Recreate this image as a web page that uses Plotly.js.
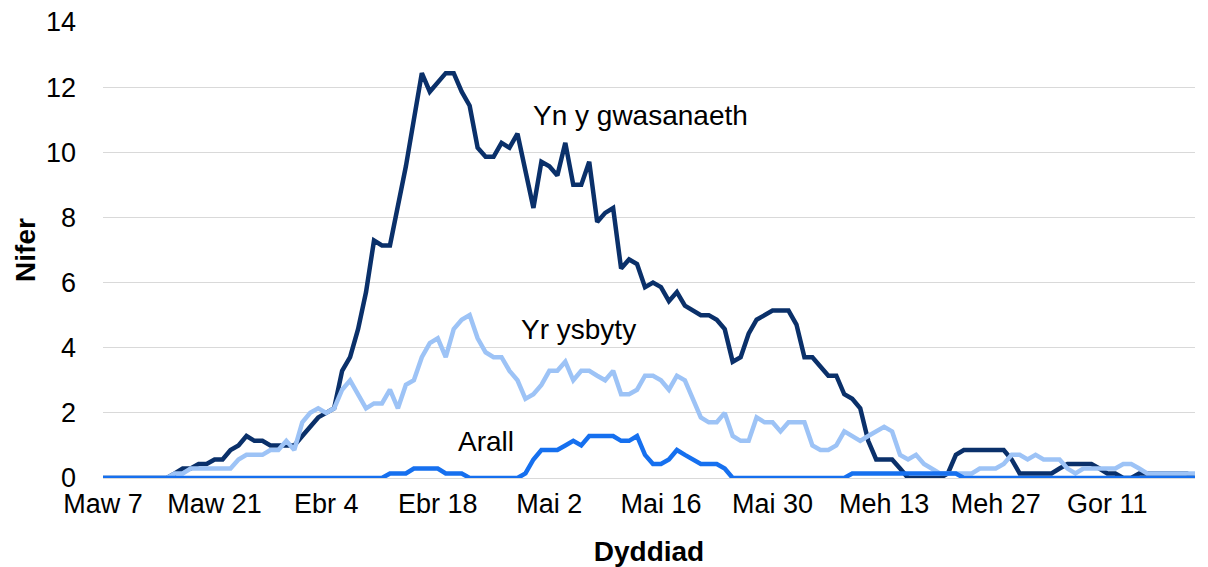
<!DOCTYPE html>
<html>
<head>
<meta charset="utf-8">
<script src="https://cdn.plot.ly/plotly-3.0.1.min.js"></script>
<style>
  html, body { margin: 0; padding: 0; background: #ffffff; }
  #chart { width: 1208px; height: 567px; }
</style>
</head>
<body>
<div id="chart"></div>
<script>
// First day of the series and day count (one point per day)
const startDate = '2020-03-07';

const tickDates = ['2020-03-07','2020-03-21','2020-04-04','2020-04-18','2020-05-02',
                   '2020-05-16','2020-05-30','2020-06-13','2020-06-27','2020-07-11'];
const tickLabels = ['Maw 7','Maw 21','Ebr 4','Ebr 18','Mai 2','Mai 16','Mai 30','Meh 13','Meh 27','Gor 11'];

const seriesNames = ['Yn y gwasanaeth', 'Yr ysbyty', 'Arall'];

const ynYGwasanaeth = [
  0,0,0,0,0,0,0,0,0,0.14,
  0.29,0.29,0.43,0.43,0.57,0.57,0.86,1.0,1.29,1.14,
  1.14,1.0,1.0,1.0,1.0,1.29,1.57,1.86,2.0,2.14,
  3.29,3.71,4.57,5.71,7.29,7.14,7.14,8.29,9.57,11.0,
  12.43,11.86,12.14,12.43,12.43,11.86,11.43,10.14,9.86,9.86,
  10.29,10.14,10.57,9.43,8.29,9.71,9.57,9.29,10.29,9.0,
  9.0,9.71,7.86,8.14,8.29,6.43,6.71,6.57,5.86,6.0,
  5.86,5.43,5.71,5.29,5.14,5.0,5.0,4.86,4.57,3.57,
  3.71,4.43,4.86,5.0,5.14,5.14,5.14,4.71,3.71,3.71,
  3.43,3.14,3.14,2.57,2.43,2.14,1.14,0.57,0.57,0.57,
  0.29,0,0,0,0,0,0.14,0.71,0.86,0.86,
  0.86,0.86,0.86,0.86,0.57,0.14,0.14,0.14,0.14,0.14,
  0.29,0.43,0.43,0.43,0.43,0.29,0.14,0.14,0,0,
  0.14,0.14,0.14,0.14,0.14,0.14,0.14,0
];

const yrYsbyty = [
  0,0,0,0,0,0,0,0,0,0.14,
  0.14,0.29,0.29,0.29,0.29,0.29,0.29,0.57,0.71,0.71,
  0.71,0.86,0.86,1.14,0.86,1.71,2.0,2.14,2.0,2.14,
  2.71,3.0,2.57,2.14,2.29,2.29,2.71,2.14,2.86,3.0,
  3.71,4.14,4.29,3.71,4.57,4.86,5.0,4.29,3.86,3.71,
  3.71,3.29,3.0,2.43,2.57,2.86,3.29,3.29,3.57,3.0,
  3.29,3.29,3.14,3.0,3.29,2.57,2.57,2.71,3.14,3.14,
  3.0,2.71,3.14,3.0,2.43,1.86,1.71,1.71,2.0,1.29,
  1.14,1.14,1.86,1.71,1.71,1.43,1.71,1.71,1.71,1.0,
  0.86,0.86,1.0,1.43,1.29,1.14,1.29,1.43,1.57,1.43,
  0.71,0.57,0.71,0.43,0.29,0.14,0.14,0.14,0.14,0.14,
  0.29,0.29,0.29,0.43,0.71,0.71,0.57,0.71,0.57,0.57,
  0.57,0.29,0.14,0.29,0.29,0.29,0.29,0.29,0.43,0.43,
  0.29,0.14,0.14,0.14,0.14,0.14,0.14,0.14
];

const arall = [
  0,0,0,0,0,0,0,0,0,0,
  0,0,0,0,0,0,0,0,0,0,
  0,0,0,0,0,0,0,0,0,0,
  0,0,0,0,0,0,0.14,0.14,0.14,0.29,
  0.29,0.29,0.29,0.14,0.14,0.14,0,0,0,0,
  0,0,0,0.14,0.57,0.86,0.86,0.86,1.0,1.14,
  1.0,1.29,1.29,1.29,1.29,1.14,1.14,1.29,0.71,0.43,
  0.43,0.57,0.86,0.71,0.57,0.43,0.43,0.43,0.29,0,
  0,0,0,0,0,0,0,0,0,0,
  0,0,0,0,0.14,0.14,0.14,0.14,0.14,0.14,
  0.14,0.14,0.14,0.14,0.14,0.14,0.14,0.14,0,0,
  0,0,0,0,0,0,0,0,0,0,
  0,0,0,0,0,0,0,0,0,0,
  0,0,0,0,0,0,0,0
];

const colors = ['#0a306a', '#9dc3f6', '#1670ef'];

// consecutive daily dates for the x axis
function buildDates(start, n) {
  const out = [];
  const d0 = new Date(start + 'T00:00:00Z');
  for (let i = 0; i < n; i++) {
    const d = new Date(d0.getTime() + i * 86400000);
    out.push(d.toISOString().slice(0, 10));
  }
  return out;
}
const dates = buildDates(startDate, ynYGwasanaeth.length);

const FONT = 'Liberation Sans, Arial, Helvetica, sans-serif';
const allSeries = [ynYGwasanaeth, yrYsbyty, arall];

const traces = allSeries.map((vals, i) => ({
  type: 'scatter',
  mode: 'lines',
  name: seriesNames[i],
  x: dates,
  y: vals,
  line: { color: colors[i], width: 4.5, shape: 'linear' },
  hoverinfo: 'x+y+name'
}));

const layout = {
  width: 1208,
  height: 567,
  margin: { l: 103, r: 13, t: 22, b: 89 },
  paper_bgcolor: '#ffffff',
  plot_bgcolor: '#ffffff',
  showlegend: false,
  font: { family: FONT, color: '#000000', size: 27 },
  xaxis: {
    type: 'date',
    range: [dates[0], dates[dates.length - 1]],
    tickvals: tickDates,
    ticktext: tickLabels,
    tickfont: { family: FONT, size: 27, color: '#000000' },
    showgrid: false,
    zeroline: false,
    showline: true,
    linecolor: '#d9d9d9',
    linewidth: 1,
    ticks: '',
    ticklabelstandoff: 2,
    title: { text: 'Dyddiad', font: { family: FONT, size: 28, color: '#000000', weight: 'bold' }, standoff: 22 },
    automargin: false,
    fixedrange: true
  },
  yaxis: {
    range: [0, 14],
    dtick: 2,
    tick0: 0,
    tickfont: { family: FONT, size: 27, color: '#000000' },
    showgrid: true,
    gridcolor: '#d9d9d9',
    gridwidth: 1,
    zeroline: false,
    showline: false,
    ticks: '',
    ticklabelstandoff: 26,
    title: { text: 'Nifer', font: { family: FONT, size: 28, color: '#000000', weight: 'bold' }, standoff: 2 },
    automargin: false,
    fixedrange: true
  },
  annotations: [
    { xref: 'paper', yref: 'paper', x: 0.492, y: 0.796, text: seriesNames[0], showarrow: false,
      font: { family: FONT, size: 28, color: '#000000' }, xanchor: 'center', yanchor: 'middle' },
    { xref: 'paper', yref: 'paper', x: 0.435, y: 0.325, text: seriesNames[1], showarrow: false,
      font: { family: FONT, size: 28, color: '#000000' }, xanchor: 'center', yanchor: 'middle' },
    { xref: 'paper', yref: 'paper', x: 0.351, y: 0.079, text: seriesNames[2], showarrow: false,
      font: { family: FONT, size: 28, color: '#000000' }, xanchor: 'center', yanchor: 'middle' }
  ]
};

Plotly.newPlot('chart', traces, layout, { displayModeBar: false, staticPlot: true });
</script>
</body>
</html>
